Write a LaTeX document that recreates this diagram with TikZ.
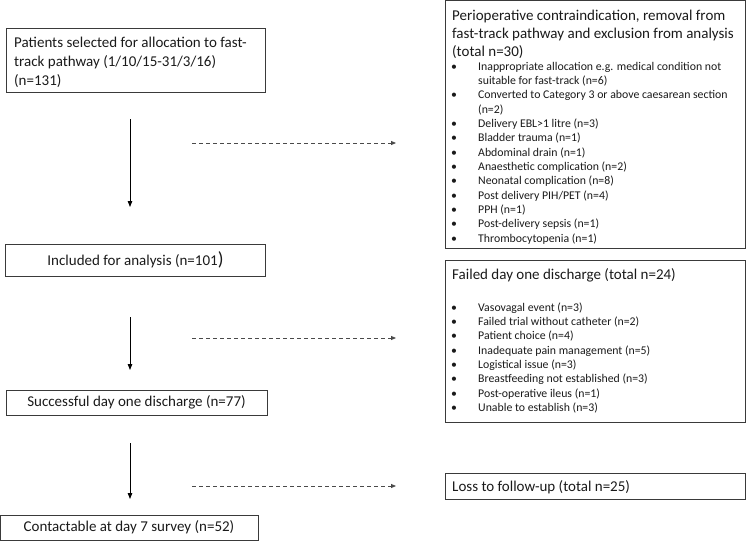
\documentclass[tikz,border=0pt]{standalone}
\usepackage{fontspec}
\setmainfont{Carlito}
\usetikzlibrary{arrows.meta}
\definecolor{boxc}{HTML}{3A3A3A}
\definecolor{txt}{HTML}{1A1A1A}
\definecolor{dashc}{HTML}{4A4A4A}
\begin{document}
\begin{tikzpicture}[x=1pt,y=-1pt,
  box/.style={draw=boxc, line width=1pt, rectangle, inner sep=0pt, text=txt, font=\fontsize{15}{18}\selectfont},
  big/.style={inner sep=0pt, anchor=base west, text=txt, font=\fontsize{15}{18}\selectfont},
  small/.style={inner sep=0pt, anchor=base west, text=txt, font=\fontsize{11.8}{14.35}\selectfont},
  flow/.style={draw=black, line width=0.8pt, -{Triangle[length=6pt,width=4.5pt]}},
  side/.style={draw=dashc, line width=0.8pt, dash pattern=on 4pt off 3pt, -{Triangle[length=5pt,width=4pt]}}]
\useasboundingbox (0,0) rectangle (748,542);

% left column boxes
\node[box, minimum width=259pt, minimum height=64pt] (sel) at (135.5,60) {};
\node[big, font=\fontsize{15}{19}\selectfont] (selt) at (14,47.5) {\begin{tabular}[t]{@{}l@{}}Patients selected for allocation to fast-\\track pathway (1/10/15-31/3/16)\\(n=131)\end{tabular}};
\node[box, minimum width=260pt, minimum height=32pt] (inc) at (135.5,260) {Included for analysis (n=101{\fontsize{19}{19}\selectfont )}};
\node[box, minimum width=261pt, minimum height=25pt] (suc) at (136.5,402.5) {Successful day one discharge (n=77)};
\node[box, minimum width=258pt, minimum height=25pt] (con) at (129,527.5) {Contactable at day 7 survey (n=52)};

% right column boxes
\node[box, minimum width=300pt, minimum height=248pt] (exc) at (595,124) {};
\node[big] (exct) at (452,20) {\begin{tabular}[t]{@{}l@{}}Perioperative contraindication, removal from\\fast-track pathway and exclusion from analysis\\(total n=30)\end{tabular}};
\node[small] (excl) at (451,70) {\begin{tabular}[t]{@{}p{27pt}@{}l@{}}
\textbullet & Inappropriate allocation e.g. medical condition not\\
 & suitable for fast-track (n=6)\\
\textbullet & Converted to Category 3 or above caesarean section\\
 & (n=2)\\
\textbullet & Delivery EBL>1 litre (n=3)\\
\textbullet & Bladder trauma (n=1)\\
\textbullet & Abdominal drain (n=1)\\
\textbullet & Anaesthetic complication (n=2)\\
\textbullet & Neonatal complication (n=8)\\
\textbullet & Post delivery PIH/PET (n=4)\\
\textbullet & PPH (n=1)\\
\textbullet & Post-delivery sepsis (n=1)\\
\textbullet & Thrombocytopenia (n=1)
\end{tabular}};

\node[box, minimum width=300pt, minimum height=162pt] (fail) at (595,341) {};
\node[big] (failt) at (452,279) {Failed day one discharge (total n=24)};
\node[small] (faill) at (451,311) {\begin{tabular}[t]{@{}p{27pt}@{}l@{}}
\textbullet & Vasovagal event (n=3)\\
\textbullet & Failed trial without catheter (n=2)\\
\textbullet & Patient choice (n=4)\\
\textbullet & Inadequate pain management (n=5)\\
\textbullet & Logistical issue (n=3)\\
\textbullet & Breastfeeding not established (n=3)\\
\textbullet & Post-operative ileus (n=1)\\
\textbullet & Unable to establish (n=3)
\end{tabular}};

\node[box, minimum width=300pt, minimum height=26pt] (loss) at (595,486) {};
\node[big] (losst) at (452,491) {Loss to follow-up (total n=25)};

% connectors
\coordinate (v1a) at (130,119); \coordinate (v1b) at (130,207);
\coordinate (v2a) at (130,317); \coordinate (v2b) at (130,370);
\coordinate (v3a) at (130,443); \coordinate (v3b) at (130,499);
\coordinate (h1a) at (192,143); \coordinate (h1b) at (396,143);
\coordinate (h2a) at (192,338); \coordinate (h2b) at (396,338);
\coordinate (h3a) at (192,486); \coordinate (h3b) at (396,486);
\draw[flow] (v1a) -- (v1b);
\draw[flow] (v2a) -- (v2b);
\draw[flow] (v3a) -- (v3b);
\draw[side] (h1a) -- (h1b);
\draw[side] (h2a) -- (h2b);
\draw[side] (h3a) -- (h3b);
\end{tikzpicture}
\end{document}
